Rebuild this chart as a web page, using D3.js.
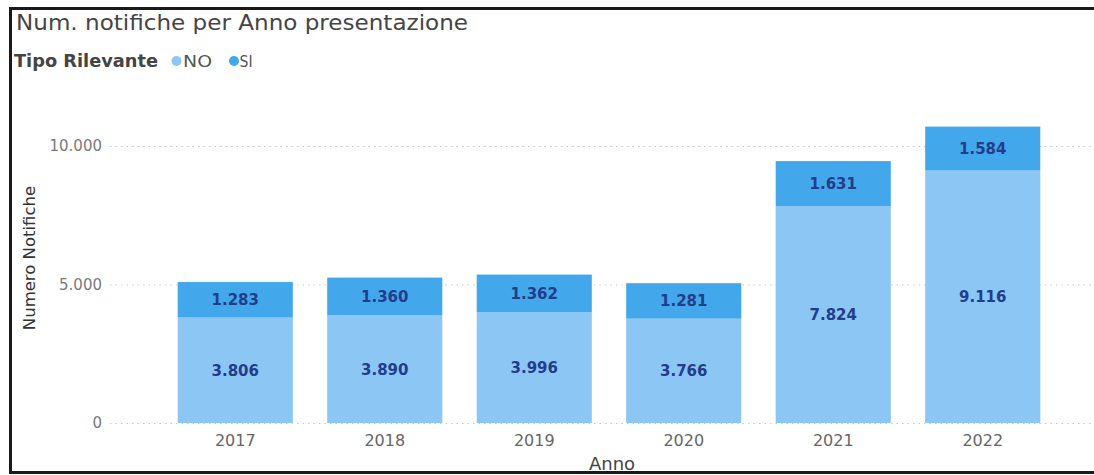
<!DOCTYPE html>
<html>
<head>
<meta charset="utf-8">
<script src="https://cdn.jsdelivr.net/npm/d3@7"></script>
<style>
  html, body { margin: 0; padding: 0; background: #fff; }
  svg { display: block; }
</style>
</head>
<body>
<svg id="chart" width="1094" height="475"></svg>
<script>
// Notifications per year, split by relevance type
const years = ["2017", "2018", "2019", "2020", "2021", "2022"];
const valuesNO = [3806, 3890, 3996, 3766, 7824, 9116];
const valuesSI = [1283, 1360, 1362, 1281, 1631, 1584];
const yTicks = [0, 5000, 10000];
const seriesKeys = ["NO", "SI"];
const seriesColors = ["#8BC6F5", "#42A8EB"];

const svg = d3.select("#chart");
const W = 1094, H = 475;
const fontMain = "'DejaVu Sans', 'Open Sans', sans-serif";

const rows = years.map((y, i) => ({ year: y, NO: valuesNO[i], SI: valuesSI[i] }));
const stacked = d3.stack().keys(seriesKeys)(rows);

const x = d3.scaleBand()
  .domain(years)
  .range([120, 1098])
  .paddingInner(0.23)
  .paddingOuter(0.386);

const y = d3.scaleLinear()
  .domain([0, 10000])
  .range([423, 146]);

const fmt = d3.formatLocale({ decimal: ",", thousands: ".", grouping: [3], currency: ["€", ""] }).format(",d");

// frame
svg.append("path")
  .attr("d", `M${W + 5},8.5 H10.5 V472.5 H${W + 5}`)
  .attr("fill", "none")
  .attr("stroke", "#1a1a1a")
  .attr("stroke-width", 3);

// title
svg.append("text")
  .attr("x", 16).attr("y", 30)
  .attr("font-family", fontMain)
  .attr("font-size", 21)
  .attr("fill", "#454545")
  .attr("textLength", 452)
  .attr("lengthAdjust", "spacingAndGlyphs")
  .text("Num. notifiche per Anno presentazione");

// legend
const legend = svg.append("g").attr("font-family", fontMain);
legend.append("text")
  .attr("x", 14).attr("y", 67)
  .attr("font-size", 17)
  .attr("font-weight", "bold")
  .attr("fill", "#444")
  .attr("textLength", 144)
  .attr("lengthAdjust", "spacingAndGlyphs")
  .text("Tipo Rilevante");
const legendItems = [{ k: "NO", cx: 176.5, tx: 183, w: 29 }, { k: "SI", cx: 234, tx: 239.5, w: 13 }];
legendItems.forEach((d, i) => {
  legend.append("circle").attr("cx", d.cx).attr("cy", 61).attr("r", 5).attr("fill", seriesColors[i]);
  legend.append("text")
    .attr("x", d.tx).attr("y", 67)
    .attr("font-size", 16)
    .attr("fill", "#555")
    .attr("textLength", d.w)
    .attr("lengthAdjust", "spacingAndGlyphs")
    .text(d.k);
});

// gridlines
svg.append("g")
  .selectAll("line")
  .data(yTicks)
  .join("line")
  .attr("x1", 110).attr("x2", W)
  .attr("y1", d => y(d) + 0.5).attr("y2", d => y(d) + 0.5)
  .attr("stroke", "#c8c8c8")
  .attr("stroke-width", 1)
  .attr("stroke-dasharray", "1.5,4");

// y axis labels
const yAxis = svg.append("g")
  .attr("transform", "translate(102,0)")
  .call(d3.axisLeft(y).tickValues(yTicks).tickSize(0).tickPadding(0).tickFormat(fmt));
yAxis.select(".domain").remove();
yAxis.selectAll("text")
  .attr("font-family", fontMain)
  .attr("font-size", 15)
  .attr("fill", "#7a7a7a");

// y axis title
svg.append("text")
  .attr("transform", "translate(35,258) rotate(-90)")
  .attr("text-anchor", "middle")
  .attr("font-family", fontMain)
  .attr("font-size", 16.5)
  .attr("fill", "#333")
  .text("Numero Notifiche");

// bars
const layers = svg.append("g")
  .selectAll("g")
  .data(stacked)
  .join("g")
  .attr("fill", (d, i) => seriesColors[i]);

layers.selectAll("rect")
  .data(d => d)
  .join("rect")
  .attr("x", d => x(d.data.year))
  .attr("width", x.bandwidth())
  .attr("y", d => y(d[1]))
  .attr("height", d => y(d[0]) - y(d[1]));

// value labels
layers.selectAll("text")
  .data(d => d.map(v => ({ v, key: d.key })))
  .join("text")
  .attr("x", d => x(d.v.data.year) + x.bandwidth() / 2)
  .attr("y", d => (y(d.v[0]) + y(d.v[1])) / 2 + 5.5)
  .attr("text-anchor", "middle")
  .attr("font-family", fontMain)
  .attr("font-size", 15)
  .attr("font-weight", "bold")
  .attr("fill", "#223d8a")
  .text(d => fmt(d.v.data[d.key]));

// x axis labels
const xAxis = svg.append("g")
  .attr("transform", "translate(0,435)")
  .call(d3.axisBottom(x).tickSize(0).tickPadding(0));
xAxis.select(".domain").remove();
xAxis.selectAll("text")
  .attr("font-family", fontMain)
  .attr("font-size", 16)
  .attr("fill", "#666");

// x axis title
svg.append("text")
  .attr("x", 612).attr("y", 470)
  .attr("text-anchor", "middle")
  .attr("font-family", fontMain)
  .attr("font-size", 18)
  .attr("fill", "#444")
  .text("Anno");
</script>
</body>
</html>
